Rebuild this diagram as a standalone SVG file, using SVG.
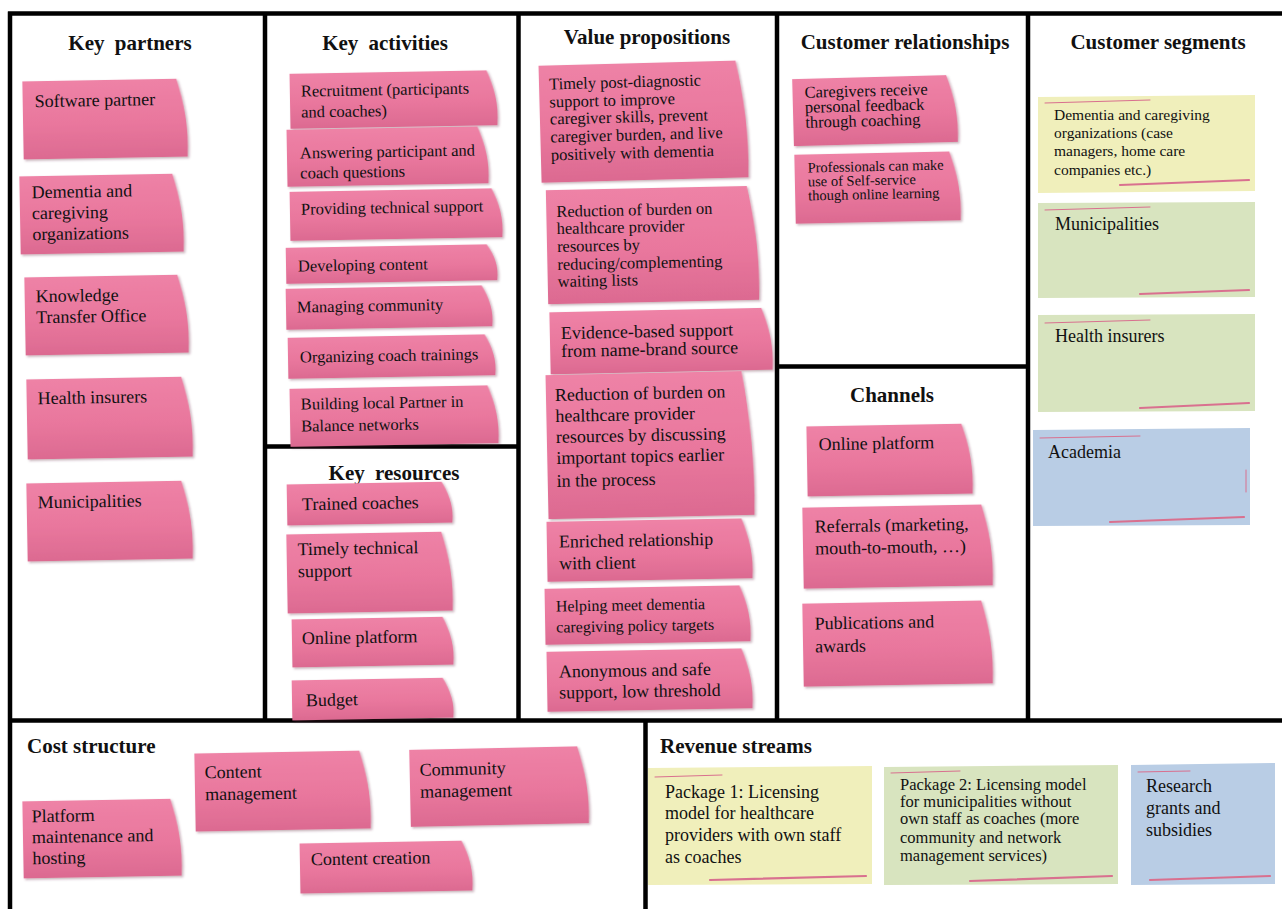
<svg xmlns="http://www.w3.org/2000/svg" width="1282" height="909" viewBox="0 0 1282 909">
<style>
text{font-family:"Liberation Serif","Times New Roman",serif;fill:#111}
.h{font-weight:bold;font-size:21px;text-anchor:middle}
.ws{word-spacing:5px}
.hl{font-weight:bold;font-size:21px}
.t18{font-size:18px}
.t16{font-size:16.5px}
.t16s{font-size:16px}
.t15{font-size:15.5px}
.t14{font-size:14.5px}
.pk{fill:url(#pg);filter:url(#sh)}
.ye{fill:#F0EFBB}
.gr{fill:#D8E4BF}
.bl{fill:#B9CDE5}
.ln{stroke:#D9708F;fill:none;stroke-linecap:round}
.grid{stroke:#000;stroke-width:4.5;fill:none}
</style>
<defs>
<linearGradient id="pg" x1="0" y1="0" x2="0" y2="1">
<stop offset="0" stop-color="#EE82A6"/>
<stop offset="0.55" stop-color="#E9779D"/>
<stop offset="1" stop-color="#DC6A91"/>
</linearGradient>
<filter id="sh" x="-5%" y="-5%" width="115%" height="120%">
<feDropShadow dx="1.5" dy="1.5" stdDeviation="1.2" flood-color="#5a2030" flood-opacity="0.35"/>
</filter>
</defs>
<rect width="1282" height="909" fill="#fff"/>

<g id="grid">
<path class="grid" d="M8,13.5 H1282 M10,11.5 V909 M265,13.5 V720.5 M518.5,13.5 V720.5 M777,13.5 V720.5 M1028,13.5 V720.5 M265,446.5 H518.5 M777,366.5 H1028 M10,720.5 H1282 M645.5,720.5 V909"/>
</g>

<g id="titles">
<text class="h ws" x="130" y="50">Key partners</text>
<text class="h ws" x="385" y="50">Key activities</text>
<text class="h" x="647" y="44">Value propositions</text>
<text class="h" x="905" y="49">Customer relationships</text>
<text class="h" x="1158" y="49">Customer segments</text>
<text class="h ws" x="394" y="480">Key resources</text>
<text class="h" x="892" y="402">Channels</text>
<text class="hl" x="27" y="753">Cost structure</text>
<text class="hl" x="660" y="753">Revenue streams</text>
</g>

<!-- Key partners -->
<g id="kp1" transform="rotate(-1 105 119)"><path class="pk" d="M23,80 L177,80 C184,103 189,129 187,158 L23,158 Z"/><text class="t18" x="35" y="106">Software partner</text></g>
<g id="kp2" transform="rotate(-1 101 214)"><path class="pk" d="M20,175 L173,175 C180,198 185,224 183,253 L20,253 Z"/><text class="t18" x="32" y="197">Dementia and</text><text class="t18" x="32" y="218">caregiving</text><text class="t18" x="32" y="239">organizations</text></g>
<g id="kp3" transform="rotate(-1 106 315)"><path class="pk" d="M25,276 L178,276 C185,299 190,325 188,354 L25,354 Z"/><text class="t18" x="36" y="301">Knowledge</text><text class="t18" x="36" y="322">Transfer Office</text></g>
<g id="kp4" transform="rotate(-1 110 418)"><path class="pk" d="M27,378 L182,378 C189,402 194,428 192,458 L27,458 Z"/><text class="t18" x="38" y="403">Health insurers</text></g>
<g id="kp5" transform="rotate(-1 110 521)"><path class="pk" d="M27,482 L182,482 C189,505 194,531 192,560 L27,560 Z"/><text class="t18" x="38" y="507">Municipalities</text></g>

<!-- Key activities -->
<g id="ka1" transform="rotate(-1 393 100)"><path class="pk" d="M290,72 L487,72 C494,88 499,106 497,127 L290,127 Z"/><text class="t16" x="301" y="95">Recruitment (participants</text><text class="t16" x="301" y="116">and coaches)</text></g>
<g id="ka2" transform="rotate(-1 388 157)"><path class="pk" d="M287,128 L478,128 C485,145 490,164 488,185 L287,185 Z"/><text class="t16" x="300" y="157">Answering participant and</text><text class="t16" x="300" y="177">coach questions</text></g>
<g id="ka3" transform="rotate(-1 396 215)"><path class="pk" d="M290,190 L492,190 C499,204 504,221 502,239 L290,239 Z"/><text class="t16" x="301" y="213">Providing technical support</text></g>
<g id="ka4" transform="rotate(-1 391 264)"><path class="pk" d="M286,246 L487,246 C494,256 499,268 497,282 L286,282 Z"/><text class="t16" x="298" y="270">Developing content</text></g>
<g id="ka5" transform="rotate(-1 389 308)"><path class="pk" d="M286,287 L482,287 C489,299 494,313 492,328 L286,328 Z"/><text class="t16" x="297" y="311">Managing community</text></g>
<g id="ka6" transform="rotate(-1 391 357)"><path class="pk" d="M288,336 L485,336 C492,348 497,362 495,377 L288,377 Z"/><text class="t16" x="300" y="361">Organizing coach trainings</text></g>
<g id="ka7" transform="rotate(-1 394 416)"><path class="pk" d="M290,387 L488,387 C495,404 500,424 498,445 L290,445 Z"/><text class="t16" x="301" y="408">Building local Partner in</text><text class="t16" x="301" y="430">Balance networks</text></g>

<!-- Key resources -->
<g id="kr1" transform="rotate(-1 370 504)"><path class="pk" d="M287,483 L442,483 C449,495 454,509 452,524 L287,524 Z"/><text class="t18" x="302" y="509">Trained coaches</text></g>
<g id="kr2" transform="rotate(-1 370 573)"><path class="pk" d="M287,533 L442,533 C449,556 454,583 452,612 L287,612 Z"/><text class="t18" x="298" y="554">Timely technical</text><text class="t18" x="298" y="576">support</text></g>
<g id="kr3" transform="rotate(-1 373 642)"><path class="pk" d="M292,618 L443,618 C450,632 455,648 453,666 L292,666 Z"/><text class="t18" x="302" y="643">Online platform</text></g>
<g id="kr4" transform="rotate(-1 373 699)"><path class="pk" d="M292,679 L443,679 C450,691 455,705 453,719 L292,719 Z"/><text class="t18" x="306" y="705">Budget</text></g>

<!-- Value propositions -->
<g id="vp1" transform="rotate(-1.5 644 121)"><path class="pk" d="M540,63 L737,63 C744,97 749,136 747,180 L540,180 Z"/><text class="t16" x="550" y="87">Timely post-diagnostic</text><text class="t16" x="550" y="105">support to improve</text><text class="t16" x="550" y="122">caregiver skills, prevent</text><text class="t16" x="550" y="140">caregiver burden, and live</text><text class="t16" x="550" y="158">positively with dementia</text></g>
<g id="vp2" transform="rotate(-1.2 652 245)"><path class="pk" d="M547,188 L748,188 C755,222 760,260 758,302 L547,302 Z"/><text class="t16" x="557" y="215">Reduction of burden on</text><text class="t16" x="557" y="232">healthcare provider</text><text class="t16" x="557" y="250">resources by</text><text class="t16" x="557" y="268">reducing/complementing</text><text class="t16" x="557" y="285">waiting lists</text></g>
<g id="vp3" transform="rotate(-1.2 661 341)"><path class="pk" d="M550,310 L762,310 C769,328 774,349 772,372 L550,372 Z"/><text class="t18" x="561" y="337">Evidence-based support</text><text class="t18" x="561" y="355">from name-brand source</text></g>
<g id="vp4" transform="rotate(-1.2 650 445)"><path class="pk" d="M547,373 L743,373 C750,415 755,465 753,517 L547,517 Z"/><text class="t18" x="556" y="399">Reduction of burden on</text><text class="t18" x="556" y="420">healthcare provider</text><text class="t18" x="556" y="441">resources by discussing</text><text class="t18" x="556" y="462">important topics earlier</text><text class="t18" x="556" y="485">in the process</text></g>
<g id="vp5" transform="rotate(-1 650 550)"><path class="pk" d="M547,520 L742,520 C749,538 754,558 752,580 L547,580 Z"/><text class="t18" x="559" y="546">Enriched relationship</text><text class="t18" x="559" y="568">with client</text></g>
<g id="vp6" transform="rotate(-1 648 615)"><path class="pk" d="M545,587 L740,587 C747,603 752,623 750,643 L545,643 Z"/><text class="t16s" x="556" y="610">Helping meet dementia</text><text class="t16s" x="556" y="631">caregiving policy targets</text></g>
<g id="vp7" transform="rotate(-1 650 680)"><path class="pk" d="M547,650 L742,650 C749,668 754,688 752,710 L547,710 Z"/><text class="t18" x="559" y="676">Anonymous and safe</text><text class="t18" x="559" y="697">support, low threshold</text></g>

<!-- Customer relationships -->
<g id="cr1" transform="rotate(-1.5 875 110)"><path class="pk" d="M793,77 L947,77 C954,96 959,120 957,144 L793,144 Z"/><text class="t16" x="805" y="96">Caregivers receive</text><text class="t16" x="805" y="111">personal feedback</text><text class="t16" x="805" y="126">through coaching</text></g>
<g id="cr2" transform="rotate(-1.2 877 187)"><path class="pk" d="M795,153 L950,153 C957,173 962,197 960,222 L795,222 Z"/><text class="t14" x="808" y="171">Professionals can make</text><text class="t14" x="808" y="185">use of Self-service</text><text class="t14" x="808" y="199">though online learning</text></g>

<!-- Channels -->
<g id="ch1" transform="rotate(-1 889 460)"><path class="pk" d="M807,425 L962,425 C969,445 974,470 972,495 L807,495 Z"/><text class="t18" x="819" y="449">Online platform</text></g>
<g id="ch2" transform="rotate(-1 897 546)"><path class="pk" d="M803,506 L982,506 C989,529 994,558 992,587 L803,587 Z"/><text class="t18" x="815" y="531">Referrals (marketing,</text><text class="t18" x="815" y="553">mouth-to-mouth, …)</text></g>
<g id="ch3" transform="rotate(-1 897 643)"><path class="pk" d="M803,602 L982,602 C989,626 994,655 992,685 L803,685 Z"/><text class="t18" x="815" y="628">Publications and</text><text class="t18" x="815" y="651">awards</text></g>

<!-- Customer segments -->
<g id="cs1"><path class="ye" d="M1038,97 L1255,95 L1255,191 L1038,193 Z"/><path class="ln" stroke-width="1" d="M1045,103 L1150,100"/><path class="ln" stroke-width="2.2" d="M1120,185 L1249,180"/><text class="t15" x="1054" y="120">Dementia and caregiving</text><text class="t15" x="1054" y="138">organizations (case</text><text class="t15" x="1054" y="156">managers, home care</text><text class="t15" x="1054" y="175">companies etc.)</text></g>
<g id="cs2"><path class="gr" d="M1038,203 L1255,202 L1255,297 L1038,298 Z"/><path class="ln" stroke-width="1" d="M1045,210 L1150,207"/><path class="ln" stroke-width="2.2" d="M1140,294 L1249,290"/><text class="t18" x="1055" y="230">Municipalities</text></g>
<g id="cs3"><path class="gr" d="M1038,315 L1255,314 L1255,411 L1038,412 Z"/><path class="ln" stroke-width="1" d="M1045,323 L1150,320"/><path class="ln" stroke-width="2.2" d="M1140,408 L1249,403"/><text class="t18" x="1055" y="342">Health insurers</text></g>
<g id="cs4"><path class="bl" d="M1033,430 L1250,428 L1250,525 L1033,526 Z"/><path class="ln" stroke-width="1" d="M1040,438 L1140,436"/><path class="ln" stroke-width="2.2" d="M1110,522 L1244,517"/><path class="ln" stroke-width="1" d="M1246,470 L1246,492"/><text class="t18" x="1048" y="458">Academia</text></g>

<!-- Cost structure -->
<g id="cost1" transform="rotate(-1 102 838)"><path class="pk" d="M23,800 L171,800 C178,823 183,849 181,877 L23,877 Z"/><text class="t18" x="32" y="821">Platform</text><text class="t18" x="32" y="842">maintenance and</text><text class="t18" x="32" y="863">hosting</text></g>
<g id="cost2" transform="rotate(-1 282 791)"><path class="pk" d="M195,752 L360,752 C367,775 372,802 370,830 L195,830 Z"/><text class="t18" x="205" y="777">Content</text><text class="t18" x="205" y="799">management</text></g>
<g id="cost3" transform="rotate(-1.2 499 786)"><path class="pk" d="M410,748 L578,748 C585,771 590,798 588,825 L410,825 Z"/><text class="t18" x="420" y="774">Community</text><text class="t18" x="420" y="796">management</text></g>
<g id="cost4" transform="rotate(-1 386 867)"><path class="pk" d="M300,842 L462,842 C469,856 474,873 472,892 L300,892 Z"/><text class="t18" x="311" y="864">Content creation</text></g>

<!-- Revenue streams -->
<g id="rev1"><path class="ye" d="M648,768 L872,766 L872,884 L648,885 Z"/><path class="ln" stroke-width="1" d="M655,777 L722,775"/><path class="ln" stroke-width="2.2" d="M710,880 L866,876"/><text class="t18" x="665" y="798">Package 1: Licensing</text><text class="t18" x="665" y="819">model for healthcare</text><text class="t18" x="665" y="841">providers with own staff</text><text class="t18" x="665" y="863">as coaches</text></g>
<g id="rev2"><path class="gr" d="M884,767 L1118,765 L1118,884 L884,885 Z"/><path class="ln" stroke-width="1" d="M891,773 L960,771"/><path class="ln" stroke-width="2.2" d="M970,881 L1112,876"/><text class="t16" x="900" y="790">Package 2: Licensing model</text><text class="t16" x="900" y="807">for municipalities without</text><text class="t16" x="900" y="824">own staff as coaches (more</text><text class="t16" x="900" y="843">community and network</text><text class="t16" x="900" y="861">management services)</text></g>
<g id="rev3"><path class="bl" d="M1131,765 L1275,763 L1275,884 L1131,885 Z"/><path class="ln" stroke-width="1" d="M1138,772 L1190,771"/><path class="ln" stroke-width="2.2" d="M1150,880 L1270,876"/><text class="t18" x="1146" y="792">Research</text><text class="t18" x="1146" y="814">grants and</text><text class="t18" x="1146" y="836">subsidies</text></g>
</svg>
